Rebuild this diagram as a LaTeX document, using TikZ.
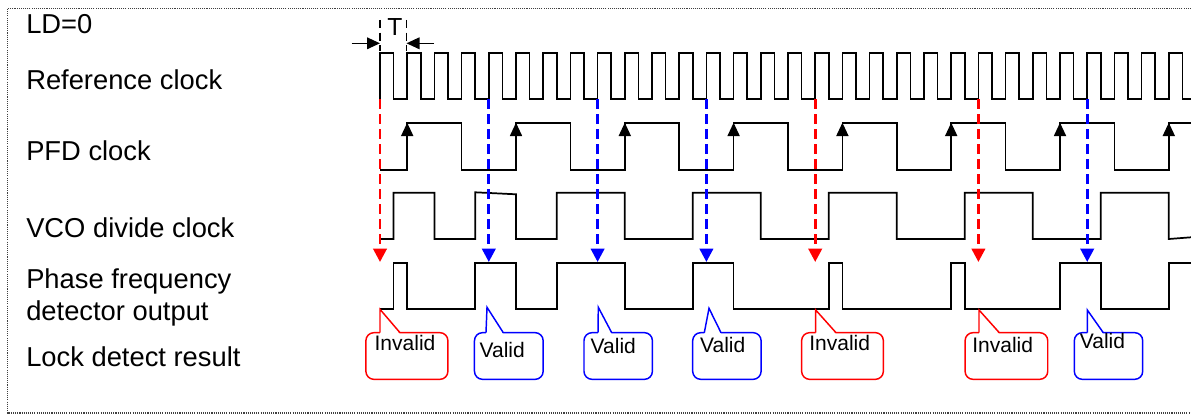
\documentclass[tikz,border=0pt]{standalone}
\usepackage{fontspec}
\setmainfont{Liberation Sans}
\usetikzlibrary{arrows.meta}

\begin{document}
\begin{tikzpicture}[x=0.75pt,y=0.75pt,yscale=-1,xscale=1,
  wave/.style={line width=1.3pt},
  sigtext/.style={anchor=base west,inner sep=0pt,font=\fontsize{20.5}{24}\selectfont},
  flagtext/.style={inner sep=0pt,font=\fontsize{15.75}{18}\selectfont},
  chkred/.style={red,line width=2.1pt,dash pattern=on 7.5pt off 3.75pt,-{Triangle[length=10pt,width=10pt]}},
  chkblue/.style={chkred,blue},
  edgetip/.style={line width=1.3pt,-{Triangle[length=10pt,width=9pt]}},
  flagred/.style={draw=red,line width=1.1pt,rounded corners=6pt,fill=white,minimum height=35pt,inner sep=0pt},
  flagblue/.style={flagred,draw=blue},
  flagline/.style={line width=1.1pt,line join=miter}
]
\useasboundingbox (0,0) rectangle (1191,417);

%Shape: dotted frame, open on the right
\draw [black!75,line width=0.8pt,dash pattern=on 0.8pt off 0.8pt] (1191,8.5) -- (7.5,8.5) -- (7.5,413) -- (1191,413) ;

% Text Node
\node[sigtext] (ld) at (26,33.3) {LD=0};
% Text Node
\node[sigtext] (nref) at (26,89.3) {Reference clock};
% Text Node
\node[sigtext] (npfd) at (26,161) {PFD clock};
% Text Node
\node[sigtext] (nvco) at (26,237.7) {VCO divide clock};
% Text Node
\node[sigtext,align=left] (npfo) at (26,320) {Phase frequency\\detector output};
% Text Node
\node[sigtext] (nlock) at (26,366.7) {Lock detect result};

%Straight Lines: period marker
\draw [line width=0.9pt,dash pattern=on 6pt off 3.5pt] (380,20) -- (380,51) ;
\draw [line width=0.9pt,dash pattern=on 6pt off 3.5pt] (406.5,20) -- (406.5,51) ;
\coordinate (tl) at (351.7,43.3);
\coordinate (tli) at (380,43.3);
\coordinate (tr) at (434,43.3);
\coordinate (tri) at (406.5,43.3);
\draw [line width=1.1pt,-{Triangle[length=9.75pt,width=8.75pt]}] (tl) -- (tli) ;
\draw [line width=1.1pt,-{Triangle[length=9.75pt,width=8.75pt]}] (tr) -- (tri) ;
% Text Node
\node[inner sep=0pt,font=\fontsize{18.5}{20}\selectfont] (tper) at (395,26.7) {T};

%Shape: Polyline, reference clock
\draw [wave] (380,99.3) \foreach \k in {0,...,29} { |- ({393.6+27.2*\k},52.7) |- ({407.2+27.2*\k},99.3) } ;

%Shape: Polyline, PFD clock
\draw [wave] (380,170) \foreach \k in {0,...,7} { -| ({407.2+108.8*\k},122.7) -| ({461.6+108.8*\k},170) } ;
\foreach \k in {0,...,7}
  \draw [edgetip] ({407.2+108.8*\k},150) -- ({407.2+108.8*\k},122.7) ;

%Shape: Polyline, VCO divide clock
\draw [wave] (380,239) -- (393.6,239) -- (393.6,192.7) -- (434.4,192.7) -- (434.4,239) -- (475.2,239) -- (475.2,192.3) -- (516,194.3) -- (516,239) -- (556.8,239) -- (556.8,192.7) -- (624.8,192.7) -- (624.8,239) -- (692.8,239) -- (692.8,192.7) -- (760.8,192.7) -- (760.8,239) -- (828.8,239) -- (828.8,192.7) -- (896.8,192.7) -- (896.8,239) -- (964.8,239) -- (964.8,192.7) -- (1032.8,192.7) -- (1032.8,239) -- (1100.8,239) -- (1100.8,192.7) -- (1168.8,192.7) -- (1168.8,239) -- (1191,237.3) ;

%Shape: Polyline, phase frequency detector output
\draw [wave] (380,309.3) \foreach \a/\b in {393.6/407.2,475.2/516,556.8/624.8,692.8/733.6,828.8/842.4,951.2/964.8,1060/1100.8,1168.8/1200} { -| (\a,262.7) -| (\b,309.3) } ;

%Straight Lines: sampling edges
\foreach \n/\x in {a/380,b/488.8,c/597.6,d/706.4,e/815.2,f/978.4,g/1087.2} {
  \coordinate (ref\n) at (\x,99.3);
  \coordinate (pfo\n) at (\x,262);
}
\draw [chkred] (refa) -- (pfoa) ;
\draw [chkblue] (refb) -- (pfob) ;
\draw [chkblue] (refc) -- (pfoc) ;
\draw [chkblue] (refd) -- (pfod) ;
\draw [chkred] (refe) -- (pfoe) ;
\draw [chkred] (reff) -- (pfof) ;
\draw [chkblue] (refg) -- (pfog) ;

%Shape: lock detect callouts
\node[flagred,minimum width=61.5pt] (boxa) at (406.9,356) {};
\node[flagblue,minimum width=51.5pt] (boxb) at (508.8,356) {};
\node[flagblue,minimum width=51.3pt] (boxc) at (618.2,356) {};
\node[flagblue,minimum width=51.3pt] (boxd) at (726.9,356) {};
\node[flagred,minimum width=61.3pt] (boxe) at (842.5,356) {};
\node[flagred,minimum width=62pt] (boxf) at (1006.4,356) {};
\node[flagblue,minimum width=51.3pt] (boxg) at (1108.5,356) {};

\coordinate (tipa) at (380,309.3);
\coordinate (tipb) at (487,307.3);
\coordinate (tipc) at (598.3,307.3);
\coordinate (tipd) at (709,308.3);
\coordinate (tipe) at (815.7,310);
\coordinate (tipf) at (979,310);
\coordinate (tipg) at (1087.3,310);

\foreach \t/\l/\r/\c in {a/380/400/red,b/486/503.3/blue,c/598/611.7/blue,d/704.3/721/blue,e/815.7/836/red,f/979/999.3/red,g/1087.3/1103.3/blue} {
  \fill [white] (\l,334.2) -- (tip\t) -- (\r,334.2) -- cycle ;
  \draw [flagline,\c] (\l,332.7) -- (tip\t) -- (\r,332.7) ;
}

% Text Node
\node[flagtext] (ta) at (405,342.5) {Invalid};
% Text Node
\node[flagtext] (tb) at (502.2,349.7) {Valid};
% Text Node
\node[flagtext] (tc) at (613.3,345.8) {Valid};
% Text Node
\node[flagtext] (td) at (722.7,345.3) {Valid};
% Text Node
\node[flagtext] (te) at (839.7,342.5) {Invalid};
% Text Node
\node[flagtext] (tf) at (1002.7,345.3) {Invalid};
% Text Node
\node[flagtext] (tg) at (1102.5,340.5) {Valid};

\end{tikzpicture}
\end{document}
